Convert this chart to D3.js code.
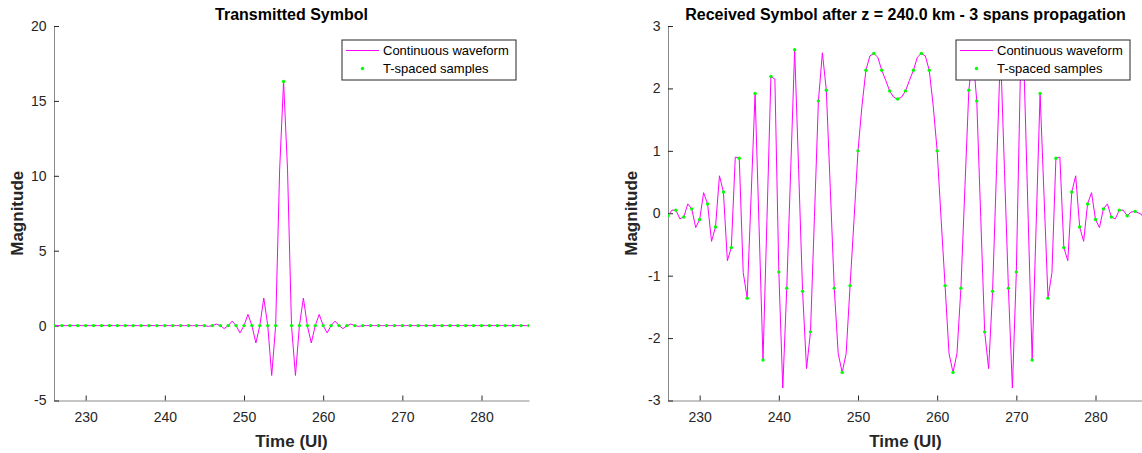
<!DOCTYPE html>
<html>
<head>
<meta charset="utf-8">
<script src="https://cdn.jsdelivr.net/npm/d3@7"></script>
<style>
  body { margin: 0; background: #fff; }
  svg { display: block; font-family: "Liberation Sans", Arial, sans-serif; }
</style>
</head>
<body>
<svg id="chart" width="1142" height="453"></svg>
<script>
const width = 1142;
const height = 453;
const svg = d3.select("#chart");

// time grids (UI)
const xDomain = [226, 286];
const sampleTimes = d3.range(226, 287, 1);
const waveTimes = d3.range(226, 286.5, 0.5);

// transmitted symbol, T-spaced samples (226..286)
const txSamples = [
  0, 0, 0, 0, 0, 0, 0, 0, 0, 0,
  0, 0, 0, 0, 0, 0, 0, 0, 0, 0,
  0, 0, 0, 0, 0, 0, 0, 0, 0, 16.3,
  0, 0, 0, 0, 0, 0, 0, 0, 0, 0,
  0, 0, 0, 0, 0, 0, 0, 0, 0, 0,
  0, 0, 0, 0, 0, 0, 0, 0, 0, 0, 0
];

// transmitted symbol, continuous waveform (226..286 step 0.5)
const txWave = [
  0, 0, 0, 0, 0, 0, 0, 0, 0, 0,          // 226 - 230.5
  0, 0, 0, 0, 0, 0, 0, 0, 0, 0,          // 231 - 235.5
  0, 0, 0, 0, 0, 0, 0, 0, 0, 0,          // 236 - 240.5
  0, 0, 0, 0, 0, 0, 0, 0, 0, -0.05,      // 241 - 245.5
  0, 0.1, 0, -0.2, 0, 0.3, 0, -0.49, 0, 0.75,      // 246 - 250.5
  0, -1.16, 0, 1.84, 0, -3.33, 0, 10.4, 16.3, 10.4, // 251 - 255.5
  0, -3.33, 0, 1.84, 0, -1.16, 0, 0.75, 0, -0.49,   // 256 - 260.5
  0, 0.3, 0, -0.2, 0, 0.1, 0, -0.05, 0, 0,          // 261 - 265.5
  0, 0, 0, 0, 0, 0, 0, 0, 0, 0,          // 266 - 270.5
  0, 0, 0, 0, 0, 0, 0, 0, 0, 0,          // 271 - 275.5
  0, 0, 0, 0, 0, 0, 0, 0, 0, 0,          // 276 - 280.5
  0, 0, 0, 0, 0, 0, 0, 0, 0, 0,          // 281 - 285.5
  0                                      // 286
];

// received symbol, T-spaced samples (226..286)
const rxSamples = [
  -0.04, 0.05, -0.06, 0.07, -0.10, 0.15, -0.22, 0.34, -0.55, 0.88,
  -1.36, 1.92, -2.35, 2.19, -0.94, -1.2, 2.62, -1.25, -1.9, 1.8,
  1.97, -1.2, -2.55, -1.16, 1.0, 2.29, 2.56, 2.29, 1.96, 1.83,
  1.96, 2.29, 2.56, 2.29, 1.0, -1.16, -2.55, -1.2, 1.97, 1.8,
  -1.9, -1.25, 2.62, -1.2, -0.94, 2.19, -2.35, 1.92, -1.36, 0.88,
  -0.55, 0.34, -0.22, 0.15, -0.10, 0.07, -0.06, 0.05, -0.04, 0.03, -0.03
];

// received symbol, continuous waveform (226..286 step 0.5)
const rxWave = [
  -0.04, 0.05, 0.05, -0.09, -0.06, 0.15, 0.07, -0.23, -0.10, 0.33,   // 226 - 230.5
  0.15, -0.45, -0.22, 0.60, 0.34, -0.76, -0.55, 0.90, 0.88, -0.95,   // 231 - 235.5
  -1.36, 0.28, 1.92, -0.2, -2.35, -0.1, 2.19, 2.15, -0.94, -2.8,     // 236 - 240.5
  -1.2, 0.7, 2.62, 0.7, -1.25, -2.49, -1.9, -0.05, 1.8, 2.57,        // 241 - 245.5
  1.97, 0.4, -1.2, -2.25, -2.55, -2.25, -1.16, -0.1, 1.0, 1.72,      // 246 - 250.5
  2.29, 2.52, 2.56, 2.5, 2.29, 2.13, 1.96, 1.86, 1.83, 1.86,         // 251 - 255.5
  1.96, 2.13, 2.29, 2.5, 2.56, 2.52, 2.29, 1.72, 1.0, -0.1,          // 256 - 260.5
  -1.16, -2.25, -2.55, -2.25, -1.2, 0.4, 1.97, 2.57, 1.8, -0.05,     // 261 - 265.5
  -1.9, -2.49, -1.25, 0.7, 2.62, 0.7, -1.2, -2.8, -0.94, 2.15,       // 266 - 270.5
  2.19, -0.1, -2.35, -0.2, 1.92, 0.28, -1.36, -0.95, 0.88, 0.90,     // 271 - 275.5
  -0.55, -0.76, 0.34, 0.60, -0.22, -0.45, 0.15, 0.33, -0.10, -0.23,  // 276 - 280.5
  0.07, 0.15, -0.06, -0.09, 0.05, 0.05, -0.04, 0.02, 0.03, 0.0,      // 281 - 285.5
  -0.03                                                              // 286
];

const xTicks = [230, 240, 250, 260, 270, 280];

const panels = [
  {
    title: "Transmitted Symbol",
    x0: 54, x1: 529,
    yDomain: [-5, 20], yTicks: [-5, 0, 5, 10, 15, 20],
    wave: txWave, samples: txSamples
  },
  {
    title: "Received Symbol after z = 240.0 km - 3 spans propagation",
    x0: 668, x1: 1143,
    yDomain: [-3, 3], yTicks: [-3, -2, -1, 0, 1, 2, 3],
    wave: rxWave, samples: rxSamples
  }
];

const plotTop = 26;
const plotBottom = 400.5;
const ink = "#262626";

panels.forEach((p, i) => drawPanel(p, i));

function drawPanel(p, i) {
  const x = d3.scaleLinear().domain(xDomain).range([p.x0, p.x1]);
  const y = d3.scaleLinear().domain(p.yDomain).range([plotBottom, plotTop]);
  const g = svg.append("g");

  g.append("clipPath")
    .attr("id", "clip" + i)
    .append("rect")
    .attr("x", p.x0).attr("y", plotTop - 2)
    .attr("width", p.x1 - p.x0).attr("height", plotBottom - plotTop + 4);

  // axes, MATLAB style: box off, ticks inside
  const fmt = d => String(d);
  const xAxis = g.append("g")
    .attr("transform", `translate(0,${plotBottom})`)
    .call(d3.axisBottom(x).tickValues(xTicks).tickFormat(fmt)
      .tickSizeInner(-5).tickSizeOuter(0).tickPadding(11.5));
  const yAxis = g.append("g")
    .attr("transform", `translate(${p.x0},0)`)
    .call(d3.axisLeft(y).tickValues(p.yTicks).tickFormat(fmt)
      .tickSizeInner(-5).tickSizeOuter(0).tickPadding(7.5));

  [xAxis, yAxis].forEach(a => {
    a.select(".domain").attr("stroke", "#8a8a8a").attr("stroke-width", 1);
    a.selectAll(".tick line").attr("stroke", ink);
    a.selectAll(".tick text").attr("fill", ink).style("font-size", "14px");
  });

  // waveform
  const line = d3.line()
    .x((d, k) => x(waveTimes[k]))
    .y(d => y(d));

  const plot = g.append("g").attr("clip-path", `url(#clip${i})`);
  plot.append("path")
    .datum(p.wave)
    .attr("fill", "none")
    .attr("stroke", "#ff00ff")
    .attr("stroke-width", 1)
    .attr("d", line);

  plot.selectAll("circle")
    .data(p.samples)
    .join("circle")
    .attr("cx", (d, k) => x(sampleTimes[k]))
    .attr("cy", d => y(d))
    .attr("r", 1.7)
    .attr("fill", "#00ff00");

  // title and labels
  const cx = (p.x0 + p.x1) / 2;
  g.append("text")
    .attr("x", cx).attr("y", 20)
    .attr("text-anchor", "middle")
    .style("font-size", "16px").style("font-weight", "bold")
    .attr("fill", "#000")
    .text(p.title);

  g.append("text")
    .attr("x", cx).attr("y", 447)
    .attr("text-anchor", "middle")
    .style("font-size", "17px").style("font-weight", "bold")
    .attr("fill", ink)
    .text("Time (UI)");

  const ly = (plotTop + plotBottom) / 2;
  g.append("text")
    .attr("transform", `translate(${p.x0 - 31},${ly}) rotate(-90)`)
    .attr("text-anchor", "middle")
    .style("font-size", "17px").style("font-weight", "bold")
    .attr("fill", ink)
    .text("Magnitude");

  // legend
  const lw = 174, lh = 40;
  const lg = g.append("g").attr("transform", `translate(${p.x1 - 13 - lw},40)`);
  lg.append("rect")
    .attr("width", lw).attr("height", lh)
    .attr("fill", "#fff").attr("stroke", ink).attr("stroke-width", 1);
  lg.append("line")
    .attr("x1", 4).attr("x2", 37).attr("y1", 10.5).attr("y2", 10.5)
    .attr("stroke", "#ff00ff").attr("stroke-width", 1);
  lg.append("circle")
    .attr("cx", 20.5).attr("cy", 28.5).attr("r", 1.7).attr("fill", "#00ff00");
  lg.selectAll("text.leg")
    .data(["Continuous waveform", "T-spaced samples"])
    .join("text")
    .attr("class", "leg")
    .attr("x", 41)
    .attr("y", (d, k) => 15 + k * 18)
    .style("font-size", "13px")
    .attr("fill", "#000")
    .text(d => d);
}
</script>
</body>
</html>
